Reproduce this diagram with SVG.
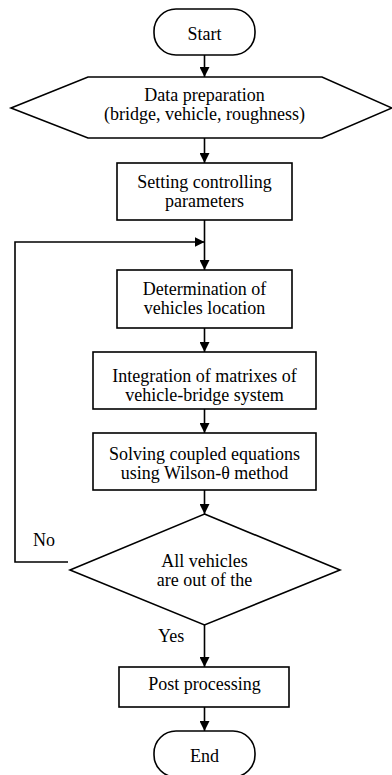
<svg xmlns="http://www.w3.org/2000/svg" width="392" height="775" viewBox="0 0 392 775">
<defs>
<marker id="arr" viewBox="0 0 10 10" refX="10" refY="5" markerWidth="10" markerHeight="10" markerUnits="userSpaceOnUse" orient="auto">
<path d="M0,0 L10,5 L0,10 Z" fill="#000"/>
</marker>
</defs>
<style>
.s{fill:#fff;stroke:#000;stroke-width:1.6}
.c{fill:none;stroke:#000;stroke-width:1.6}
text{font-family:"Liberation Serif","Times New Roman",serif;font-size:18px;fill:#000;text-anchor:middle}
.l{text-anchor:start}
</style>
<rect width="392" height="775" fill="#fff"/>
<g id="connectors">
<line class="c" x1="204.5" y1="55" x2="204.5" y2="77" marker-end="url(#arr)"/>
<line class="c" x1="204.5" y1="138" x2="204.5" y2="163" marker-end="url(#arr)"/>
<line class="c" x1="204.5" y1="220" x2="204.5" y2="270" marker-end="url(#arr)"/>
<polyline class="c" points="68,562 15,562 15,242 204.5,242" marker-end="url(#arr)"/>
<line class="c" x1="204.5" y1="328" x2="204.5" y2="352" marker-end="url(#arr)"/>
<line class="c" x1="204.5" y1="409" x2="204.5" y2="433" marker-end="url(#arr)"/>
<line class="c" x1="204.5" y1="490" x2="204.5" y2="514" marker-end="url(#arr)"/>
<line class="c" x1="204.5" y1="625" x2="204.5" y2="667" marker-end="url(#arr)"/>
<line class="c" x1="204.5" y1="707" x2="204.5" y2="731" marker-end="url(#arr)"/>
<text class="l" x="33" y="546">No</text>
<text class="l" x="158" y="642">Yes</text>
</g>
<g id="start">
<rect class="s" x="154" y="9" width="101" height="46" rx="22" ry="22"/>
<text x="204.5" y="40">Start</text>
</g>
<g id="data">
<polygon class="s" points="11,108 88,77 322,77 392,108 322,138 88,138"/>
<text x="204.5" y="101">Data preparation</text>
<text x="204.5" y="120">(bridge, vehicle, roughness)</text>
</g>
<g id="setting">
<rect class="s" x="117" y="163" width="175" height="57"/>
<text x="204.5" y="188">Setting controlling</text>
<text x="204.5" y="207">parameters</text>
</g>
<g id="determination">
<rect class="s" x="117" y="270" width="175" height="58"/>
<text x="204.5" y="294.5">Determination of</text>
<text x="204.5" y="313.5">vehicles location</text>
</g>
<g id="integration">
<rect class="s" x="93" y="352" width="223" height="57"/>
<text x="204.5" y="381.5">Integration of matrixes of</text>
<text x="204.5" y="400.5">vehicle-bridge system</text>
</g>
<g id="solving">
<rect class="s" x="93" y="433" width="223" height="57"/>
<text x="204.5" y="459.5">Solving coupled equations</text>
<text x="204.5" y="478.5">using Wilson-θ method</text>
</g>
<g id="decision">
<polygon class="s" points="204.5,514 340,570 204.5,625 70,570"/>
<text x="204.5" y="566.5">All vehicles</text>
<text x="204.5" y="585.5">are out of the</text>
</g>
<g id="post">
<rect class="s" x="119" y="667" width="170" height="40"/>
<text x="204.5" y="690">Post processing</text>
</g>
<g id="end">
<rect class="s" x="154" y="731" width="101" height="46" rx="22" ry="22"/>
<text x="204.5" y="762">End</text>
</g>
</svg>
